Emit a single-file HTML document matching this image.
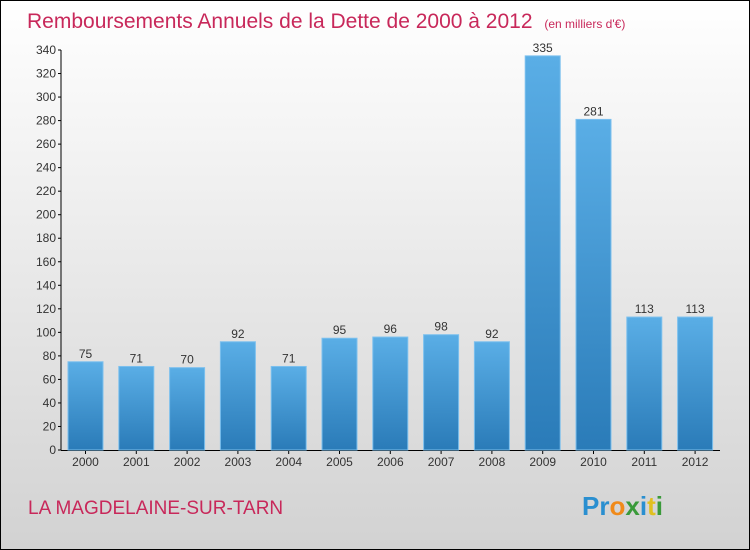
<!DOCTYPE html>
<html><head><meta charset="utf-8"><style>
body{margin:0;width:750px;height:550px;overflow:hidden}
svg{display:block;font-family:"Liberation Sans",sans-serif}
</style></head><body>
<svg id="c" width="750" height="550">
<defs>
<linearGradient id="bg" x1="0" y1="0" x2="0" y2="1"><stop offset="0" stop-color="#ffffff"/><stop offset="1" stop-color="#d2d2d2"/></linearGradient>
<linearGradient id="bar" x1="0" y1="0" x2="0" y2="1"><stop offset="0" stop-color="#5aaee6"/><stop offset="1" stop-color="#2a7bb8"/></linearGradient>
</defs>
<rect x="0.5" y="0.5" width="749" height="549" fill="url(#bg)" stroke="#000"/>
<text x="27" y="28" font-size="21" fill="#c8285a">Remboursements Annuels de la Dette de 2000 à 2012 <tspan font-size="12" dx="6">(en milliers d'€)</tspan></text>
<text x="28" y="514" font-size="19" fill="#c8285a">LA MAGDELAINE-SUR-TARN</text>
<text x="582" y="515" font-size="26" font-weight="bold"><tspan fill="#2a8fd0">Pr</tspan><tspan fill="#f08a1a">o</tspan><tspan fill="#3a9a3a">x</tspan><tspan fill="#2a8fd0">i</tspan><tspan fill="#e0c020">t</tspan><tspan fill="#3a9a3a">i</tspan></text>
<g id="axes"></g><g id="bars"></g>
</svg>
<script>
const categories=["2000","2001","2002","2003","2004","2005","2006","2007","2008","2009","2010","2011","2012"];
const values=[75,71,70,92,71,95,96,98,92,335,281,113,113];
const yTicks=[0,20,40,60,80,100,120,140,160,180,200,220,240,260,280,300,320,340];
const NS="http://www.w3.org/2000/svg";
const y=v=>450-v*400/340;
const x=i=>85.5+i*50.8;
function mk(t,a,p){const e=document.createElementNS(NS,t);for(const k in a)e.setAttribute(k,a[k]);p.appendChild(e);return e;}
const ax=document.getElementById('axes'),bg=document.getElementById('bars');
let l=mk('line',{x1:61,y1:50,x2:61,y2:450,stroke:'#000'},ax);


l=mk('line',{x1:61,y1:450.5,x2:720,y2:450.5,stroke:'#000'},ax);


yTicks.forEach(v=>{
 mk('line',{x1:58,y1:y(v),x2:61,y2:y(v),stroke:'#000'},ax);
 const t=mk('text',{x:56,y:y(v)+4,'font-size':12,'text-anchor':'end',fill:'#333'},ax);
 t.textContent=v;
 
 
});
values.forEach((v,i)=>{
 const r=mk('rect',{x:x(i)-17.5,y:y(v),width:35,height:450-y(v),fill:'url(#bar)',stroke:'#7cc0ee','stroke-width':1},bg);
 
 
 const t=mk('text',{x:x(i),y:y(v)-4,'font-size':12,'text-anchor':'middle',fill:'#333'},bg);
 t.textContent=v;
 
 
 mk('line',{x1:x(i),y1:450,x2:x(i),y2:454,stroke:'#000'},ax);
 const c=mk('text',{x:x(i),y:466,'font-size':12,'text-anchor':'middle',fill:'#333'},ax);
 c.textContent=categories[i];
 
 
});
</script>
</body></html>
